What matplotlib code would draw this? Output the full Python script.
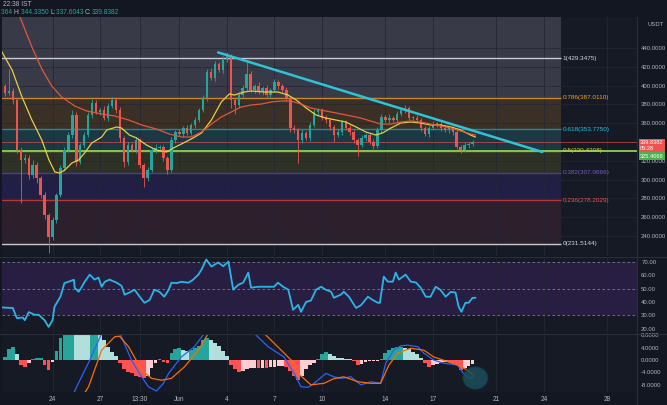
import numpy as np
import matplotlib.pyplot as plt
from matplotlib.patches import Ellipse
from matplotlib.transforms import blended_transform_factory

plt.rcParams['font.family'] = ['Liberation Sans', 'DejaVu Sans']

# ---- colours ----
BG = '#161a25'
HEAD = '#131722'
GRID = '#232736'
TXT = '#b2b5be'
UP = '#26a69a'
DOWN = '#ef5350'

# ---- price data (6h candles, one bar = 0.25 day) ----
closes = [392.1, 394.3, 384.7, 331.5, 320.9, 323.0, 304.9, 315.5, 301.7, 283.6,
          262.3, 238.9, 257.0, 283.6, 312.3, 331.5, 347.4, 368.7, 318.7, 336.8,
          347.4, 368.7, 381.5, 371.9, 374.0, 365.5, 378.3, 384.7, 374.0, 344.3,
          318.7, 336.8, 331.5, 342.1, 315.5, 301.7, 310.2, 331.5, 333.6, 334.7,
          323.0, 310.2, 342.1, 350.6, 348.5, 354.9, 349.6, 358.1, 363.4, 374.0,
          386.8, 414.5, 408.1, 423.0, 416.6, 427.2, 431.5, 384.7, 379.4, 390.0,
          397.4, 412.3, 395.3, 399.6, 393.2, 397.4, 390.0, 395.3, 403.8, 399.6,
          395.3, 386.8, 354.9, 352.8, 342.1, 349.6, 344.3, 358.1, 371.9, 374.0,
          365.5, 363.4, 356.0, 347.4, 350.6, 361.3, 354.9, 350.6, 342.1, 336.8,
          344.3, 347.4, 340.0, 335.7, 352.8, 366.6, 363.4, 365.5, 363.4, 369.8,
          374.0, 376.2, 365.5, 365.5, 363.4, 354.9, 348.5, 354.9, 359.1, 359.1,
          354.9, 352.8, 354.9, 350.6, 334.7, 331.5, 336.8, 337.9, 339.8]
first_open = 400.0
wick_hi = [2, 23, 3, 2, 3, 4, 3, 5, 3, 2,
           3, 2, 3, 2, 3, 3, 3, 5, 3, 2,
           3, 3, 4, 3, 2, 4, 3, 3.5, 2, 3,
           2, 3, 2, 3, 2, 2, 3, 2, 4, 2,
           2, 2, 3, 2, 3, 2, 3, 2, 3, 2,
           3, 3, 4, 3, 2, 4, 4, 2, 2, 3,
           3, 13, 3, 2, 4, 2, 3, 2, 3, 2,
           2, 3, 2, 3, 2, 4, 2, 3, 3, 2,
           2, 3, 2, 2, 3, 2, 2, 3, 2, 2,
           3, 2, 2, 3, 3, 3, 2, 4, 2, 3,
           2, 3, 2, 2, 3, 2, 2, 2, 3, 2,
           2, 3, 2, 2, 2, 2, 3, 2, 2]
wick_lo = [3, 2, 4, 3, 46, 3, 4, 3, 5, 3,
           4, 17, 3, 3, 2, 3, 2, 3, 4, 2,
           3, 2, 3, 2, 3, 2, 3, 2, 3, 4,
           5, 3, 2, 3, 3, 10, 3, 2, 3, 2,
           3, 4, 2, 3, 2, 3, 2, 2, 3, 2,
           2, 3, 2, 3, 2, 3, 2, 9, 10, 3,
           2, 3, 2, 3, 2, 3, 2, 3, 2, 3,
           2, 3, 4, 3, 24, 3, 2, 3, 2, 3,
           2, 3, 3, 7, 2, 3, 2, 3, 3, 12,
           2, 3, 2, 3, 2, 3, 2, 3, 2, 3,
           2, 3, 2, 3, 2, 3, 2, 3, 2, 3,
           3, 2, 3, 3, 2, 3, 2, 3, 2]

# moving averages (bar, price)
ema_fast = [(-0.75, 435.7), (1.8, 416.6), (4.3, 387.9), (6.8, 363.4), (9.3, 342.1), (11.1, 320.9),
            (12.6, 308.1), (13.8, 307.0), (15.1, 310.2), (16.9, 317.7), (18.6, 320.9), (20.1, 328.3),
            (21.9, 338.9), (24.4, 345.3), (25.7, 352.8), (28.2, 356.0), (29.4, 354.9), (31.4, 347.4),
            (33.2, 344.3), (35.7, 336.8), (38.2, 331.5), (40.8, 329.4), (42.5, 333.6), (45.0, 338.9),
            (47.5, 344.3), (49.6, 349.6), (52.1, 363.4), (54.6, 382.6), (56.6, 391.1), (57.9, 390.0),
            (60.4, 393.2), (62.1, 394.3), (65.4, 393.2), (68.9, 393.2), (71.4, 390.0), (73.5, 384.7),
            (76.0, 376.2), (78.5, 368.7), (81.0, 365.5), (83.5, 363.4), (86.0, 361.3), (88.6, 356.0),
            (91.1, 350.6), (93.6, 347.4), (95.3, 349.6), (97.4, 354.9), (99.9, 360.2), (102.4, 361.3),
            (104.9, 360.2), (107.4, 358.1), (109.9, 358.1), (112.5, 356.0), (115.0, 352.8),
            (117.5, 347.4), (118.7, 345.3)]
ema_slow = [(1.8, 496.0), (3.8, 473.0), (6.8, 441.0), (9.3, 417.7), (11.8, 399.6), (14.3, 387.9),
            (17.6, 378.3), (20.6, 373.0), (24.4, 369.8), (27.7, 367.7), (31.2, 363.4), (34.5, 358.1),
            (38.2, 353.8), (41.5, 348.5), (44.5, 345.3), (47.0, 345.3), (49.6, 350.6), (52.1, 359.1),
            (54.6, 366.6), (57.1, 371.9), (59.6, 377.2), (62.1, 379.4), (64.7, 380.4), (67.2, 382.6),
            (69.7, 383.6), (72.2, 383.6), (74.7, 380.4), (77.2, 376.2), (79.7, 374.0), (82.3, 371.9),
            (84.8, 369.8), (87.3, 367.7), (89.8, 365.5), (92.3, 362.3), (94.8, 359.1), (97.4, 359.1),
            (99.9, 361.3), (102.4, 362.3), (104.9, 361.3), (107.4, 359.1), (109.9, 357.0),
            (112.5, 354.9), (115.0, 351.7), (117.5, 348.5), (118.7, 347.4)]

# trend line anchors (bar, price)
trend = [(53.8, 435.3), (135.6, 329.4)]

# fibonacci retracement
fib_ratio = [1, 0.786, 0.618, 0.5, 0.382, 0.236, 0]
fib_price = [429.3475, 387.0110, 353.7750, 330.4308, 307.0866, 278.2029, 231.5144]
fib_line = ['#c9cbd2', '#c8862c', '#1f8a9a', '#6aa02c', '#4b3f8a', '#b8343e', '#c9cbd2']
fib_text = ['#d1d4dc', '#f0a22e', '#26c6da', '#d8d23c', '#7e57c2', '#ef5350', '#d1d4dc']
fib_fill = ['#383b47', '#3a3026', '#1c3843', '#2e3126', '#211f45', '#2d1f2b']
fib_span = (-5, 140.4)

last_price = 339.8382
alert_price = 325.4068

price_ticks = [440, 420, 400, 380, 360, 320, 300, 280, 260, 240]

# RSI (bar, value)
rsi_pts = [(-1, 36), (2, 35.5), (3, 28), (4.5, 28.5), (5, 26.5), (6, 32.5), (7.5, 30.5), (8.5, 30.5),
           (10, 26.5), (11, 21.5), (12, 26.5), (12.5, 36.5), (14, 44), (15, 54), (16, 55), (17.4, 56.5),
           (17.6, 50.5), (18.6, 47.6), (19.4, 51.3), (20.1, 55), (21.4, 60.3), (22.6, 56.6), (23.6, 58.1),
           (24.4, 51.3), (25.2, 55), (26.4, 56.6), (28.2, 54.3), (29.4, 52), (30.2, 45.4), (31.4, 47),
           (32.7, 49.1), (34, 43.9), (35.2, 39.4), (36.5, 41.5), (37.7, 49.1), (39, 47.5), (40.2, 43.9),
           (41.3, 49), (42, 54.3), (43.3, 54), (44.5, 55), (46.3, 54.3), (47.5, 56.6), (48.8, 60.3),
           (49.6, 64), (50.8, 71.5), (52.1, 66.3), (53.8, 69.3), (55.1, 66.5), (56.4, 70), (57.6, 49.1),
           (58.9, 52.8), (60.1, 54.3), (61.4, 61.8), (62.1, 50.6), (63.9, 51.3), (65.2, 51.3),
           (66.4, 51.3), (67.9, 51.3), (68.9, 54.3), (70.2, 51.3), (71.5, 49.1), (72.7, 34.2),
           (74, 37.9), (74.7, 32.7), (76, 40.1), (77.2, 41), (78.5, 49.1), (79.8, 51.3), (81, 49),
           (82.3, 47.6), (83, 43.1), (84.8, 45.5), (85.5, 47.6), (86.8, 43.9), (88.6, 35.6),
           (89.8, 37.5), (91.6, 43.9), (92.8, 41.5), (94.1, 39.4), (94.6, 39.4), (95.6, 58.8),
           (96.6, 55.1), (97.9, 55.1), (98.6, 61.8), (99.4, 56.6), (101.1, 60.3), (102.4, 55.1),
           (103.7, 54.5), (104.9, 50.6), (106.2, 43.9), (107.4, 43.9), (108.7, 51.3), (109.9, 49),
           (111.2, 43.9), (112.5, 47.5), (113.7, 47), (114.5, 36.4), (115.2, 32.7), (116.2, 39.4),
           (117, 39.4), (118, 43.1), (118.7, 43.1)]

# MACD histogram, one value per bar
macd_hist = [1, 3.5, 4.3, 2, -1.5, -2.2, -1, 0.3, 0.8, 0.8,
             -1.5, -3.2, -0.5, 3, 7, 8.6, 9.5, 10, 9.8, 9.6,
             9.4, 9.2, 9.9, 10.4, 10.2, 6.5, 4.3, 2.7, 1.2, -1,
             -3, -4, -4.3, -5, -5.5, -5.9, -5, -2.5, -1, 0.2,
             -0.5, -0.8, 2.2, 3.5, 3.8, 3.2, 3, 3.2, 4, 4.5,
             6.5, 7.2, 6.5, 5.5, 4.5, 3, 1.2, -1.5, -3, -3.8,
             -3.5, -2.8, -2.5, -2.5, -2.7, -2.5, -2.7, -2.4, -2.4, -2,
             -1.8, -2.2, -3.5, -5, -6.5, -5, -3, -1.5, -0.8, 0.5,
             1.8, 2.5, 2, 1.2, 0.8, 0.6, 0.5, 0.4, -0.3, -1.6,
             -1.4, -0.6, -0.4, -0.3, -0.3, 0.5, 2.2, 3.2, 3.8, 4.3,
             4.3, 4, 3.5, 2.7, 1.8, 0.8, -1, -2.2, -1.6, -1.2,
             -0.8, -0.6, -0.7, -0.8, -1.5, -3.2, -2.7, -2, -1.3]
macd_pts = [(16.9, -12), (18.1, -8.6), (21.4, 0), (24.4, 8.6), (26.4, 12), (28.2, 11), (29.9, 6),
            (31.9, 0), (34.5, -5.4), (36.2, -8.6), (38.2, -10), (40.0, -7.5), (41.3, -4.3), (44.5, 1),
            (47.8, 4.3), (50.3, 8.6), (52.1, 12), (60.9, 12), (62.9, 8.6), (66.4, 4.3), (70.4, 1),
            (73.0, -4.3), (74.7, -8.6), (76.5, -8.8), (78.0, -7.5), (81.0, -4.3), (83.0, -5.4),
            (84.8, -5.9), (87.3, -5.4), (89.8, -8), (92.3, -7), (94.8, -7.5), (96.1, -1), (98.1, 3.2),
            (99.9, 4.6), (101.6, 4.8), (104.2, 4.3), (105.7, 2.2), (108.2, 0), (110.7, -1),
            (114.2, -1.6), (115.7, -4.3), (117.0, -5.9), (118.2, -5.4)]
signal_pts = [(19.4, -12), (21.1, -8.6), (24.4, 3.2), (27.7, 7.5), (28.9, 7.7), (31.2, 4.3),
              (34.5, -3.2), (37.0, -5.9), (39.5, -6.5), (42.0, -5.9), (45.3, -2.2), (48.8, 3.2),
              (51.3, 8.6), (53.3, 12), (63.4, 12), (65.4, 8.6), (69.7, 3.2), (72.2, 0), (74.0, -4.3),
              (77.2, -8), (80.5, -7.5), (83.0, -6), (85.5, -5.4), (89.1, -7), (92.3, -7.5),
              (94.8, -7.5), (96.9, -1.6), (99.1, 2.2), (102.4, 3.8), (105.7, 3.2), (108.2, 1),
              (111.7, -0.5), (114.2, -1.6), (116.7, -3.2), (118.2, -4.8)]
circle_mark = (118.7, -5.8)

# time axis
tick_pos = [12, 24, 34, 44, 56, 68, 80, 96, 108, 124, 136, 152]
tick_lab = ['24', '27', '13:30', 'Jun', '4', '7', '10', '14', '17', '21', '24', '28']
xlim = (-0.75, 159.5)

# ---- figure ----
W, H = 667, 405
fig = plt.figure(figsize=(W / 100, H / 100), dpi=100, facecolor=HEAD)


def rect(x0, y0, x1, y1):
    return [x0 / W, 1 - y1 / H, (x1 - x0) / W, (y1 - y0) / H]


ax = fig.add_axes(rect(2, 17, 637, 256))
ax_rsi = fig.add_axes(rect(2, 257.5, 637, 333))
ax_macd = fig.add_axes(rect(2, 334, 637, 392))

LAB = 4.3
for a in (ax, ax_rsi, ax_macd):
    a.set_facecolor(BG)
    a.set_xlim(*xlim)
    for s in a.spines.values():
        s.set_visible(False)
    a.yaxis.tick_right()
    a.tick_params(axis='y', length=0, labelsize=LAB, labelcolor=TXT, pad=3)
    a.tick_params(axis='x', length=0, labelsize=LAB + 0.4, labelcolor=TXT)
    a.set_xticks(tick_pos)
    a.set_xticklabels([])
    for t in tick_pos:
        a.axvline(t, color=GRID, lw=0.6, zorder=0.5)

# ---- main price panel ----
ax.set_ylim(218.7, 473)
ax.set_yticks(price_ticks)
ax.set_yticklabels(['%.4f' % p for p in price_ticks])
for p in price_ticks:
    ax.axhline(p, color=GRID, lw=0.5, zorder=0.4)

# fib zones
ax.fill_between(fib_span, fib_price[1], 480, color=fib_fill[0], lw=0, zorder=0.3)
for k in range(1, len(fib_fill)):
    ax.fill_between(fib_span, fib_price[k + 1], fib_price[k], color=fib_fill[k], lw=0, zorder=0.3)
for k, (r, p) in enumerate(zip(fib_ratio, fib_price)):
    ax.hlines(p, fib_span[0], fib_span[1], color=fib_line[k], lw=1.0, zorder=1)
    ax.text(fib_span[1] + 0.4, p, '%g(%.4f)' % (r, p), color=fib_text[k], fontsize=4.6,
            va='center', ha='left', zorder=5)

# horizontal lines
ax.axhline(fib_price[3], color='#8bc34a', lw=1.4, zorder=1.5)
ax.axhline(last_price, color='#ef5350', lw=0.6, alpha=0.7, zorder=1.5)

# candles
x = np.arange(len(closes))
c = np.array(closes)
o = np.r_[first_open, c[:-1]]
top = np.maximum(o, c)
bot = np.minimum(o, c)
hi = top + np.array(wick_hi)
lo = bot - np.array(wick_lo)
col = np.where(c >= o, UP, DOWN)
ax.vlines(x, lo, hi, colors=col, lw=0.6, zorder=3)
ax.bar(x, np.maximum(top - bot, 0.6), bottom=bot, width=0.62, color=col, lw=0, zorder=3)

# moving averages
fx, fy = zip(*ema_fast)
sx, sy = zip(*ema_slow)
ax.plot(fx, fy, color='#e6cf45', lw=0.9, zorder=4)
ax.plot(sx, sy, color='#e4553c', lw=0.9, zorder=4)

# trend line
tx, ty = zip(*trend)
ax.plot(tx, ty, color='#2ec4d8', lw=1.8, zorder=4.5, solid_capstyle='round')

# price tags on the axis
tr = blended_transform_factory(fig.transFigure, ax.transData)
ax.text(640 / W, last_price + 1.8, '%.4f\n05:28' % last_price, transform=tr, fontsize=4.1,
        color='white', va='top', ha='left', linespacing=1.15, clip_on=False, zorder=6,
        bbox=dict(boxstyle='square,pad=0.25', fc='#ef5350', ec='none'))
ax.text(640 / W, alert_price - 0.6, '%.4f' % alert_price, transform=tr, fontsize=4.1,
        color='white', va='center', ha='left', clip_on=False, zorder=6,
        bbox=dict(boxstyle='square,pad=0.25', fc='#4caf50', ec='none'))
fig.text(647 / W, 1 - 24 / H, 'USDT', fontsize=4.2, color=TXT, ha='left', va='center')

# ---- RSI panel ----
ax_rsi.set_ylim(17, 73)
ax_rsi.axhspan(30, 70, color='#271e42', lw=0, zorder=0.3)
for lvl in (70, 50, 30):
    ax_rsi.axhline(lvl, color='#7b7f8c', lw=0.6, ls=(0, (3, 3)), zorder=1)
rsi_ticks = [70, 60, 50, 40, 30, 20]
ax_rsi.set_yticks(rsi_ticks)
ax_rsi.set_yticklabels(['%.2f' % v for v in rsi_ticks])
rx, ry = zip(*rsi_pts)
ax_rsi.plot(rx, ry, color='#29b6e6', lw=1.3, zorder=3)

# ---- MACD panel ----
ax_macd.set_ylim(-10.3, 8.4)
macd_ticks = [8, 4, 0, -4, -8]
ax_macd.set_yticks(macd_ticks)
ax_macd.set_yticklabels(['%.4f' % v for v in macd_ticks])
h = np.array(macd_hist)
prev = np.r_[h[0], h[:-1]]
hcol = np.where(h >= 0, np.where(h >= prev, '#26a69a', '#b2dfdb'),
                np.where(h < prev, '#ff5252', '#ffcdd2'))
ax_macd.bar(np.arange(len(h)), h, width=0.95, color=hcol, lw=0, zorder=2)
mx, my = zip(*macd_pts)
gx, gy = zip(*signal_pts)
ax_macd.plot(mx, my, color='#2962ff', lw=0.9, zorder=3)
ax_macd.plot(gx, gy, color='#ff6d00', lw=0.9, zorder=3)
ax_macd.add_patch(Ellipse(circle_mark, width=6.3, height=7.2, fc='#1d4f5a', ec='#0e3b44',
                          lw=0.8, alpha=0.85, zorder=4))
ax_macd.set_xticklabels(tick_lab)
ax_macd.tick_params(axis='x', pad=3)

# separators
for yy in (257, 333.5):
    fig.add_artist(plt.Line2D([0, 1], [1 - yy / H] * 2, color='#2a2e39', lw=0.8))
fig.add_artist(plt.Line2D([637 / W] * 2, [0, 1 - 17 / H], color='#2a2e39', lw=0.8))

# ---- header ----
fig.text(0.004, 1 - 5 / H, '22:38 IST', color=TXT, fontsize=4.8, va='center')
hdr = [('364 ', UP), ('H:', TXT), ('344.3350 ', UP), ('L:', TXT), ('337.6043 ', UP),
       ('C:', TXT), ('339.8382', UP)]
rend = fig.canvas.get_renderer()
xp = 1.0 / W
for s, cc in hdr:
    t = fig.text(xp, 1 - 12.5 / H, s, color=cc, fontsize=4.8, va='center')
    xp += t.get_window_extent(renderer=rend).width / fig.bbox.width

fig.savefig('out.png', dpi=100, facecolor=HEAD)
